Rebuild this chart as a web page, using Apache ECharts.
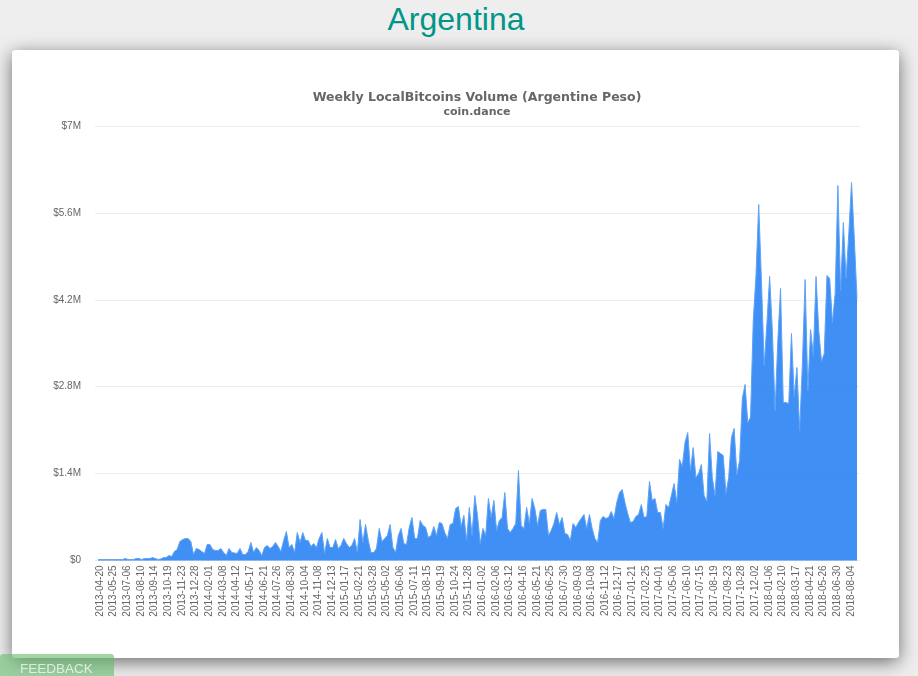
<!DOCTYPE html>
<html>
<head>
<meta charset="utf-8">
<title>Argentina</title>
<script src="https://cdn.jsdelivr.net/npm/echarts@6/dist/echarts.min.js"></script>
<style>
  html, body { margin: 0; padding: 0; width: 918px; height: 676px; overflow: hidden; background: #eeeeee; }
  h1 { position: absolute; left: -6px; width: 924px; top: 1px; margin: 0; text-align: center; color: #009688;
       font: normal 32px/36px "Liberation Sans", sans-serif; }
  #card { position: absolute; left: 12px; top: 50px; width: 887px; height: 608px; background: #fff;
          border-radius: 3px; box-shadow: 0 4px 18px rgba(0,0,0,.55); }
  #chart { width: 887px; height: 608px; }
  #feedback { position: absolute; left: 0; top: 654px; width: 94px; height: 22px; padding-left: 20px;
              background: rgba(102,187,106,.6); color: rgba(255,255,255,.7); border-radius: 3px 3px 0 0;
              font: 13.5px/30px "Liberation Sans", sans-serif; overflow: hidden; }
</style>
</head>
<body>
<h1>Argentina</h1>
<div id="card"><div id="chart"></div></div>
<div id="feedback">FEEDBACK</div>
<script>
var titleText = 'Weekly LocalBitcoins Volume (Argentine Peso)';
var subtitleText = 'coin.dance';
var yTickLabels = ['$0', '$1.4M', '$2.8M', '$4.2M', '$5.6M', '$7M'];

// weekly dates, the source has no row for 2013-06-01
var firstWeek = '2013-04-20';
var lastWeek = '2018-08-25';
var missingWeeks = ['2013-06-01'];

// volume in thousands of dollars
var volume = [
  15, 16, 15, 16, 15, 16, 15, 16, 15, 16,
  32, 16, 15, 16, 32, 32, 16, 32, 32, 32,
  48, 32, 16, 24, 48, 48, 80, 65, 145, 177,
  306, 338, 354, 354, 306, 97, 193, 177, 145, 113,
  258, 258, 177, 161, 161, 193, 129, 81, 193, 129,
  121, 113, 193, 97, 97, 145, 290, 129, 209, 161,
  81, 209, 242, 193, 226, 290, 226, 145, 322, 467,
  209, 258, 129, 451, 290, 451, 322, 322, 226, 274,
  209, 354, 451, 113, 354, 209, 209, 338, 193, 242,
  354, 274, 209, 242, 354, 129, 660, 290, 580, 322,
  129, 129, 193, 516, 306, 354, 403, 580, 209, 129,
  403, 516, 274, 258, 532, 693, 354, 354, 644, 564,
  532, 370, 403, 548, 403, 612, 596, 451, 354, 580,
  596, 838, 870, 548, 725, 322, 854, 403, 1047, 725,
  274, 516, 403, 999, 693, 967, 483, 644, 693, 1095,
  516, 451, 516, 596, 1450, 564, 516, 854, 596, 999,
  838, 564, 805, 822, 822, 403, 483, 596, 773, 580,
  693, 435, 419, 322, 596, 532, 612, 677, 741, 516,
  741, 516, 354, 290, 644, 709, 677, 693, 789, 677,
  934, 1095, 1144, 934, 757, 612, 628, 709, 741, 902,
  693, 709, 1273, 967, 999, 773, 773, 516, 902, 854,
  1047, 1240, 934, 1627, 1514, 1901, 2062, 1450, 1820, 1337,
  1402, 1547, 1047, 950, 2046, 1337, 1047, 1756, 1724, 1692,
  1079, 1337, 1982, 2127, 1385, 1611, 2610, 2835, 2223, 2304,
  3866, 4591, 5735, 4511, 3141, 3818, 4575, 3705, 2416, 3544,
  4382, 2545, 2545, 2529, 3657, 2642, 3109, 2094, 3174, 4527,
  2739, 3721, 3303, 4575, 3705, 3206, 3335, 4591, 4543, 3834,
  4301, 6041, 4350, 5445, 4543, 5268, 6090, 5204, 4221
];

var categories = [];
for (var t = Date.parse(firstWeek); t <= Date.parse(lastWeek); t += 7 * 86400000) {
  var day = new Date(t).toISOString().slice(0, 10);
  if (missingWeeks.indexOf(day) < 0) categories.push(day);
}

var chart = echarts.init(document.getElementById('chart'));
var option = {
  animation: false,
  title: {
    text: titleText,
    subtext: subtitleText,
    left: 460,
    top: 36,
    textAlign: 'center',
    itemGap: 3,
    textStyle: { fontFamily: 'DejaVu Sans', fontSize: 12.5, fontWeight: 'bold', color: '#666666' },
    subtextStyle: { fontFamily: 'DejaVu Sans', fontSize: 11, fontWeight: 'bold', color: '#666666' }
  },
  grid: [
    { left: 86, right: 42, top: 76, bottom: 97.5 },
    { left: 83, right: 39, top: 76, bottom: 97.5 }
  ],
  xAxis: [
    {
      type: 'category',
      data: categories,
      boundaryGap: false,
      axisLine: { lineStyle: { color: '#e3e3e3' } },
      axisTick: { show: false },
      axisLabel: {
        interval: 4,
        rotate: 90,
        margin: 5,
        verticalAlign: 'top',
        lineHeight: 4,
        fontFamily: 'Liberation Sans',
        fontSize: 10,
        color: '#666666'
      }
    },
    { type: 'value', gridIndex: 1, show: false }
  ],
  yAxis: [
    { type: 'value', min: 0, max: 7000, interval: 1400, show: false },
    {
      type: 'value',
      gridIndex: 1,
      min: 0,
      max: 7000,
      interval: 1400,
      axisLine: { show: false },
      axisTick: { show: false },
      splitLine: { lineStyle: { color: '#ececec' } },
      axisLabel: {
        margin: 14,
        fontFamily: 'Liberation Sans',
        fontSize: 10,
        color: '#666666',
        formatter: function (v) { return yTickLabels[v / 1400]; }
      }
    }
  ],
  series: [
    {
      type: 'line',
      data: volume,
      showSymbol: false,
      lineStyle: { color: '#5ea3f7', width: 1 },
      areaStyle: { color: 'rgba(36,128,244,0.88)', opacity: 1 }
    }
  ]
};
chart.setOption(option);
</script>
</body>
</html>
